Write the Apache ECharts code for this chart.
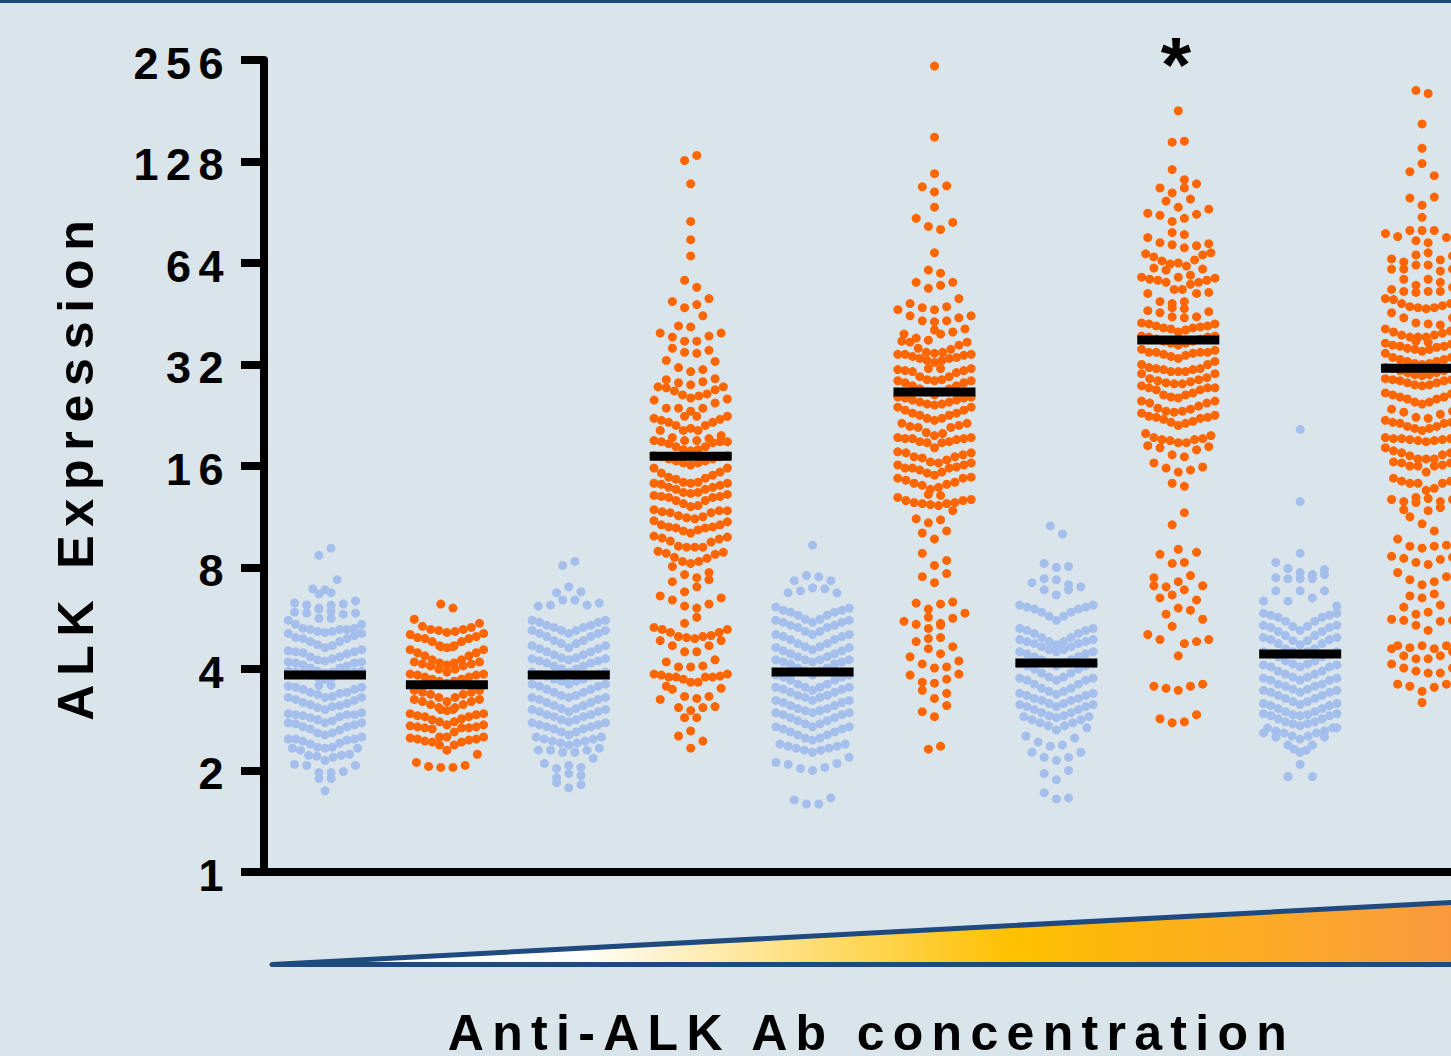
<!DOCTYPE html>
<html>
<head>
<meta charset="utf-8">
<style>html,body{margin:0;padding:0;background:#dae5eb;overflow:hidden}#main{width:1451px;height:1056px}</style>
<script src="https://cdn.jsdelivr.net/npm/echarts@6/dist/echarts.min.js"></script>
</head>
<body>
<div id="main"></div>
<script>
// Values, in log2(ALK Expression); each inner list is one swarm row, left to right.
const yTickLabels = [1, 2, 4, 8, 16, 32, 64, 128, 256];
const groupColors = ['blue','orange','blue','orange','blue','orange','blue','orange','blue','orange'];
const medians = [3.84, 3.59, 3.84, 17.1, 3.92, 26.5, 4.17, 37.8, 4.43, 31.2];

const group1Rows = [
[3.12,3.19],[2.79,2.78,2.88],[2.74,2.75],[2.65,2.63,2.60,2.63,2.64,2.67],[2.56,2.55,2.59,2.57,2.54,2.55],[2.50,2.50],
[2.48,2.44,2.40,2.39,2.37,2.36,2.37,2.39,2.39,2.40,2.44],[2.35,2.31,2.30,2.27,2.24,2.21,2.23,2.27,2.30,2.33,2.35],
[2.18,2.17,2.16,2.12,2.09,2.08,2.10,2.12,2.15,2.17,2.19],[2.07,2.06,2.04,2.01,1.98,1.96,1.97,2.01,2.03,2.06,2.07],
[1.98,1.97,1.96,1.94,1.92,1.90,1.92,1.94,1.96,1.97,1.98],[1.84,1.84],[1.83,1.82,1.80,1.77,1.75,1.72,1.73,1.76,1.77,1.80,1.82],
[1.72,1.70,1.67,1.65,1.62,1.60,1.63,1.64,1.66,1.69,1.72],[1.56,1.55,1.54,1.52,1.50,1.47,1.49,1.53,1.55,1.55,1.57],
[1.47,1.46,1.43,1.41,1.37,1.35,1.37,1.40,1.43,1.45,1.47],[1.31,1.31,1.29,1.26,1.23,1.22,1.23,1.27,1.30,1.31,1.33],
[1.22,1.20,1.15,1.14,1.10,1.13,1.15,1.16,1.22],[1.06,1.05,0.98,0.98,0.99,1.05],[0.92,0.92],[0.80]
];
const group2Rows = [
[2.64,2.60],[2.49,2.42,2.39,2.38,2.36,2.37,2.39,2.41,2.45],[2.34,2.31,2.30,2.27,2.23,2.21,2.23,2.27,2.30,2.32,2.35],[2.22,2.22],
[2.19,2.16,2.13,2.09,2.06,2.04,2.06,2.09,2.13,2.16,2.19],[2.07,2.05,2.03,2.00,1.97,2.00,2.03,2.05,2.07],
[1.95,1.94,1.92,1.90,1.88,1.86,1.88,1.90,1.92,1.94,1.95],[1.79,1.77,1.75,1.72,1.68,1.72,1.75,1.77,1.79],
[1.70,1.68,1.65,1.62,1.59,1.62,1.65,1.68,1.70],[1.60,1.60],[1.56,1.54,1.53,1.50,1.48,1.45,1.48,1.51,1.53,1.55,1.56],
[1.44,1.43,1.42,1.41,1.33,1.33,1.38,1.42,1.42,1.43,1.45],[1.32,1.31,1.29,1.28,1.25,1.20,1.25,1.28,1.30,1.31,1.33],
[1.08,1.04,1.03,1.03,1.05,1.16]
];
const group3Rows = [
[3.02,3.06],[2.75,2.81,2.76],[2.62,2.63,2.68,2.68,2.63,2.65],[2.48,2.46,2.43,2.41,2.38,2.35,2.38,2.41,2.43,2.46,2.48],
[2.38,2.35,2.32,2.28,2.25,2.21,2.25,2.28,2.32,2.35,2.38],[2.23,2.20,2.17,2.14,2.11,2.09,2.11,2.14,2.17,2.20,2.23],
[2.10,2.08,2.06,2.03,2.00,1.97,2.00,2.03,2.06,2.08,2.10],[1.97,1.95,1.93,1.90,1.88,1.85,1.88,1.90,1.93,1.95,1.97],
[1.85,1.83,1.80,1.77,1.74,1.72,1.74,1.77,1.80,1.83,1.85],[1.72,1.70,1.67,1.64,1.61,1.58,1.61,1.64,1.67,1.70,1.72],
[1.60,1.58,1.55,1.53,1.50,1.48,1.50,1.53,1.55,1.58,1.60],[1.47,1.45,1.43,1.41,1.38,1.35,1.38,1.41,1.43,1.45,1.47],
[1.33,1.31,1.29,1.27,1.25,1.27,1.29,1.31,1.33],[1.20,1.20,1.18,1.18,1.20,1.22],[1.07,1.02,1.05,1.03,1.12],[0.93,0.97,0.95],[0.88,0.83,0.86]
];
const group4Rows = [
[7.01,7.06],[6.78],[6.41],[6.23],[6.07],[5.83,5.76],[5.62,5.56,5.59,5.65],[5.38,5.37,5.48],[5.31,5.27,5.23,5.23,5.28,5.31],
[5.16,5.12,5.11,5.14],[5.04,4.97,4.93,4.95,5.03],[4.85,4.82,4.80,4.83,4.86],[4.78,4.77,4.74,4.70,4.67,4.69,4.71,4.75,4.78],
[4.65,4.57,4.57,4.54,4.57,4.62,4.66],[4.49,4.49],[4.47,4.45,4.43,4.40,4.35,4.37,4.35,4.40,4.43,4.46,4.49],[4.35,4.28,4.25,4.25,4.27,4.30],
[4.25,4.24,4.22,4.19,4.16,4.15,4.16,4.19,4.23,4.24,4.24],[4.10,4.09,4.07,4.05,4.03,4.01,4.03,4.05,4.07,4.09,4.10],
[3.98,3.93,3.89,3.87,3.84,3.83,3.84,3.88,3.91,3.94,3.98],[3.83,3.82,3.79,3.77,3.74,3.73,3.74,3.77,3.79,3.81,3.83],
[3.71,3.70,3.69,3.66,3.63,3.60,3.61,3.66,3.69,3.70,3.72],[3.57,3.55,3.54,3.51,3.49,3.48,3.50,3.54,3.56,3.56],
[3.46,3.42,3.40,3.39,3.36,3.34,3.37,3.39,3.40,3.42,3.45],[3.31,3.29,3.26,3.21,3.20,3.20,3.20,3.25,3.28,3.30],
[3.16,3.14,3.10,3.06,3.04,3.06,3.09,3.13,3.15],[2.86,2.93,2.90,2.95],[3.01,2.76,2.81,2.88],[2.72,2.68,2.62,2.60,2.64,2.70],[2.45,2.51],
[2.41,2.39,2.36,2.32,2.31,2.30,2.32,2.33,2.36,2.39],[2.28,2.23,2.17,2.17,2.23,2.28],[2.07,2.02,2.02,2.03,2.09],
[1.95,1.94,1.92,1.92,1.90,1.87,1.87,1.92,1.92,1.93,1.95],[1.70,1.80,1.73,1.71,1.73,1.81],[1.83,1.62,1.59,1.62,1.63],[1.52,1.52],[1.34,1.39,1.29],[1.22]
];
const group5Rows = [
[3.22],[2.87,2.92,2.91,2.87],[2.75,2.77,2.80,2.79,2.75],[2.61,2.58,2.56,2.53,2.49,2.46,2.49,2.53,2.56,2.58,2.60],
[2.48,2.46,2.43,2.41,2.37,2.34,2.37,2.41,2.43,2.46,2.48],[2.34,2.32,2.29,2.25,2.22,2.19,2.22,2.25,2.29,2.32,2.34],
[2.21,2.18,2.15,2.12,2.09,2.07,2.09,2.12,2.15,2.18,2.21],[2.09,2.07,2.05,2.01,1.98,1.94,1.98,2.01,2.05,2.07,2.09],
[1.94,1.92,1.89,1.85,1.82,1.79,1.82,1.85,1.89,1.92,1.94],[1.82,1.80,1.77,1.74,1.72,1.69,1.72,1.74,1.77,1.80,1.82],
[1.69,1.67,1.64,1.61,1.59,1.57,1.59,1.61,1.64,1.67,1.69],[1.57,1.55,1.52,1.49,1.46,1.43,1.46,1.49,1.52,1.55,1.57],
[1.43,1.41,1.38,1.35,1.32,1.30,1.32,1.35,1.38,1.41,1.43],[1.26,1.24,1.22,1.20,1.18,1.20,1.22,1.24,1.26],
[1.08,1.06,1.02,1.00,1.03,1.07,1.13],[0.71,0.67,0.67,0.73]
];
const group6Rows = [
[7.94],[7.24],[6.88],[6.75,6.70,6.76],[6.55],[6.44,6.36,6.33,6.40],[6.10],[5.93,5.90],[5.81,5.75,5.78,5.81],
[5.54,5.48,5.56,5.54,5.57,5.65,5.48],[5.60,5.43,5.42,5.43,5.46],[5.34],[5.30,5.26,5.24,5.30,5.32,5.35],
[5.23,5.22,5.16,5.12,5.11,5.12,5.15,5.19,5.22],[5.10,5.10,5.08,5.06,5.04,5.02,5.04,5.06,5.07,5.09,5.10],[4.96,4.96],
[4.95,4.94,4.93,4.88,4.85,4.84,4.85,4.88,4.92,4.94,4.96],[4.84,4.82,4.79,4.76,4.73,4.70,4.73,4.76,4.79,4.82,4.84],
[4.68,4.67,4.65,4.63,4.61,4.60,4.61,4.63,4.65,4.67,4.68],[4.58,4.55,4.52,4.50,4.47,4.45,4.47,4.50,4.52,4.55,4.58],
[4.42,4.39,4.38,4.33,4.30,4.32,4.38,4.40,4.42],[4.28,4.27,4.27,4.24,4.23,4.18,4.23,4.24,4.26,4.27,4.28],
[4.14,4.13,4.09,4.08,4.04,4.03,4.06,4.09,4.11,4.13],[4.01,3.98,3.98,3.96,3.93,3.91,3.94,3.98,3.99,4.01,4.03],
[3.88,3.86,3.83,3.81,3.77,3.79,3.82,3.84,3.88,3.89],[3.72,3.71],[3.69,3.66,3.64,3.63,3.62,3.61,3.63,3.64,3.66,3.67],
[3.48,3.44,3.47,3.56],[3.34,3.28,3.36],[3.14,3.02,3.07],[2.91,2.85,2.94],[2.65,2.59,2.64,2.66],[2.47,2.44,2.51,2.45,2.50,2.55],[2.40,2.43],
[2.27,2.20,2.15,2.22],[2.30,2.31],[2.12,2.05,2.01,2.02,2.08],[1.94,1.87,1.86,1.90,1.95],[1.79,1.71,1.76],[1.58,1.53,1.64],[1.21,1.24]
];
const group7Rows = [
[3.41,3.33],[3.04,3.00,3.01],[2.85,2.89,2.88,2.83,2.81],[2.78,2.73,2.78],[2.63,2.61,2.59,2.56,2.52,2.48,2.52,2.56,2.59,2.61,2.63],
[2.40,2.38,2.35,2.31,2.27,2.24,2.27,2.31,2.35,2.38,2.40],[2.29,2.27,2.25,2.22,2.19,2.17,2.19,2.22,2.25,2.27,2.29],
[2.17,2.15,2.12,2.09,2.06,2.03,2.06,2.09,2.12,2.15,2.17],[2.05,2.03,2.00,1.96,1.92,1.89,1.92,1.96,2.00,2.03,2.05],
[1.91,1.89,1.85,1.81,1.78,1.75,1.78,1.81,1.85,1.89,1.91],[1.76,1.74,1.71,1.69,1.66,1.63,1.66,1.69,1.71,1.74,1.76],
[1.65,1.63,1.60,1.57,1.54,1.52,1.54,1.57,1.60,1.63,1.65],[1.53,1.50,1.47,1.44,1.40,1.44,1.47,1.50,1.53],
[1.34,1.28,1.24,1.25,1.32,1.42],[1.18,1.13,1.10,1.13,1.18],[0.97,0.91,1.00],[0.78,0.72,0.73]
];
const group8Rows = [
[7.50],[7.19,7.20],[6.92,6.82],[6.74,6.69,6.74,6.78],[6.61,6.55,6.63],[6.49,6.47,6.41,6.44,6.48,6.53],[6.30,6.28],
[6.25,6.20,6.18,6.15,6.17,6.19],[6.09,6.06,6.02,5.99,6.00,5.97,6.03,6.08,6.10],[5.95,5.93,5.86,5.88,5.94],
[5.86,5.84,5.83,5.81,5.74,5.74,5.79,5.81,5.83,5.85],[5.70,5.62,5.60,5.62,5.70,5.71],[5.53,5.51,5.56,5.55,5.47,5.52],[5.47,5.46],
[5.41,5.40,5.38,5.36,5.35,5.32,5.34,5.36,5.37,5.38,5.40],[5.28,5.27,5.25,5.23,5.21,5.19,5.21,5.23,5.25,5.27,5.28],
[5.15,5.12,5.12,5.10,5.08,5.06,5.09,5.11,5.12,5.12,5.14],[5.00,4.97,4.96,4.95,4.93,4.93,4.93,4.95,4.96,5.00,5.03],
[4.91,4.86,4.84,4.82,4.81,4.81,4.83,4.85,4.87,4.91],[4.79,4.77,4.75,4.70,4.68,4.67,4.70,4.72,4.75,4.77,4.77],
[4.64,4.62,4.57,4.54,4.53,4.54,4.56,4.59,4.62,4.64],[4.52,4.49,4.48,4.46,4.43,4.40,4.42,4.44,4.47,4.48,4.50],
[4.32,4.28,4.26,4.25,4.23,4.23,4.26,4.27,4.30],[4.20,4.18,4.11,4.09,4.16,4.19],[4.03,3.98,3.94,3.96,3.99],[3.83,3.80],[3.42,3.54],
[3.13,3.04,3.05,3.15],[3.18],[2.82,2.81,2.86,2.92,2.82],[2.70,2.73,2.78,2.68],[2.90,2.54,2.60,2.58,2.49],[2.34,2.29,2.42,2.25,2.27,2.29],[2.13],
[1.83,1.81,1.79,1.83,1.85],[1.51,1.47,1.48,1.55]
];
const group9Rows = [
[4.36],[3.65],[3.14],[3.05,2.99,2.95,2.93,2.98],[2.90,2.89,2.89,2.89,2.93],[2.67,2.77,2.67,2.77,2.70,2.77,2.62],
[2.55,2.53,2.51,2.47,2.42,2.38,2.42,2.47,2.51,2.53,2.55],[2.43,2.41,2.37,2.33,2.28,2.24,2.28,2.33,2.37,2.41,2.43],
[2.31,2.29,2.25,2.20,2.17,2.14,2.17,2.20,2.25,2.29,2.31],[2.17,2.15,2.12,2.08,2.05,2.02,2.05,2.08,2.12,2.15,2.17],
[2.04,2.02,1.98,1.95,1.92,1.89,1.92,1.95,1.98,2.02,2.04],[1.91,1.89,1.85,1.83,1.80,1.77,1.80,1.83,1.85,1.89,1.91],
[1.79,1.77,1.74,1.71,1.68,1.65,1.68,1.71,1.74,1.77,1.79],[1.66,1.64,1.61,1.58,1.55,1.54,1.55,1.58,1.61,1.64,1.66],
[1.56,1.54,1.51,1.48,1.46,1.44,1.46,1.48,1.51,1.54,1.56],[1.42,1.39,1.37,1.34,1.31,1.34,1.37,1.39,1.42],
[1.37,1.33,1.25,1.18,1.25,1.33,1.42],[1.21,1.20],[0.94,1.06,0.94]
];
const group10Rows = [
[7.70,7.67],[7.37],[7.13],[6.90,6.98,6.86],[6.64,6.57,6.65],[6.45],[6.29,6.26,6.32,6.32,6.32,6.25,6.28],[6.22,6.20],
[6.04,6.01,6.08,6.10,6.03,6.07],[5.94,5.94,5.98,5.98,5.92,5.94],[5.84,5.78,5.84,5.81],[5.74,5.72,5.71,5.72,5.72,5.76],
[5.65,5.64,5.60,5.57,5.56,5.55,5.56,5.58,5.60,5.65],[5.51,5.46,5.41,5.40,5.39,5.46],[5.35,5.32,5.29,5.27,5.27,5.27,5.29,5.31,5.33,5.35],[5.23,5.22],
[5.21,5.19,5.18,5.16,5.15,5.13,5.15,5.17,5.18,5.20,5.21],[5.11,5.07,5.05,5.03,5.01,5.00,5.01,5.03,5.05,5.07,5.11],
[4.97,4.96,4.94,4.92,4.90,4.89,4.90,4.92,4.94,4.96,4.97],[4.86,4.85,4.84,4.82,4.80,4.79,4.80,4.82,4.84,4.85,4.86],
[4.72,4.70,4.68,4.66,4.63,4.61,4.63,4.66,4.68,4.71,4.72],[4.56,4.53,4.48,4.47,4.51,4.54],[4.45,4.43,4.42,4.39,4.37,4.35,4.37,4.39,4.42,4.43,4.45],
[4.28,4.27,4.27,4.26,4.25,4.24,4.25,4.26,4.27,4.28],[4.18,4.15,4.13,4.10,4.07,4.07,4.07,4.11,4.13,4.15],[4.04,4.03,4.00,4.00,3.94,4.00,4.01,4.03],
[3.88,3.85,3.83,3.83,3.76,3.78,3.83,3.85],[3.67,3.65,3.69,3.68,3.65,3.67],[3.57,3.64,3.56,3.59],[3.50,3.43,3.36],[3.28,3.21,3.19,3.21,3.22],
[3.11,3.09,3.05,3.03,3.08,3.10],[2.95,2.88,2.83,2.86,2.91],[2.72,2.70,2.74],[2.61,2.54,2.56,2.63],[2.49,2.48,2.43,2.38,2.47,2.48],
[2.23,2.21,2.23,2.20,2.23],[2.20,2.13,2.10,2.10,2.13,2.17],[2.05,2.01,1.98,1.96,1.96,2.01],[1.85,1.83,1.78,1.82,1.85],[1.67]
];

const allGroups = [group1Rows,group2Rows,group3Rows,group4Rows,group5Rows,group6Rows,group7Rows,group8Rows,group9Rows,group10Rows];
const palette = { blue: '#a4bfec', orange: '#ff6600' };

// Swarm layout: offsets along x in units of one group's spacing.
function slotWidth(n) { return n <= 7 ? 0.1 : Math.min(0.0669, 0.602 / (n - 1)); }
function swarm(rows, groupIndex) {
  const pts = [];
  rows.forEach(function (row) {
    const w = slotWidth(row.length);
    row.forEach(function (lv, i) {
      pts.push([groupIndex + (i - (row.length - 1) / 2) * w, Math.pow(2, lv)]);
    });
  });
  return pts;
}

const series = allGroups.map(function (rows, g) {
  return {
    type: 'scatter', name: 'Group ' + (g + 1), data: swarm(rows, g),
    symbol: 'circle', symbolSize: 9, clip: false, silent: true,
    itemStyle: { color: palette[groupColors[g]], opacity: 1 }, z: 2
  };
});
series.push({
  type: 'scatter', name: 'Median', data: medians.map(function (m, g) { return [g, m]; }),
  symbol: 'rect', symbolSize: [82, 9], clip: false, silent: true,
  itemStyle: { color: '#000', opacity: 1 }, z: 5
});

const fontFamily = '"Liberation Sans", Arial, sans-serif';
const chart = echarts.init(document.getElementById('main'), null, { renderer: 'svg', width: 1451, height: 1056 });
chart.setOption({
  animation: false,
  backgroundColor: '#dae5eb',
  grid: { left: 264, right: -28, top: 60, bottom: 184, containLabel: false, outerBoundsMode: 'none' },
  xAxis: {
    type: 'value', min: -0.5004, max: 9.467,
    axisLine: { show: true, onZero: false, lineStyle: { color: '#000', width: 8, cap: 'square' } },
    axisTick: { show: false }, axisLabel: { show: false }, splitLine: { show: false },
    name: 'Anti-ALK Ab concentration', nameLocation: 'middle', nameGap: 136,
    nameTextStyle: { color: '#000', fontFamily: fontFamily, fontWeight: 'bold', fontSize: 50 }
  },
  yAxis: {
    type: 'log', logBase: 2, min: yTickLabels[0], max: yTickLabels[yTickLabels.length - 1], interval: 1,
    axisLine: { show: true, onZero: false, lineStyle: { color: '#000', width: 8 } },
    axisTick: { show: true, length: 23, lineStyle: { color: '#000', width: 8 } },
    axisLabel: { color: '#000', fontFamily: fontFamily, fontWeight: 'bold', fontSize: 45, margin: 33 },
    splitLine: { show: false }, minorTick: { show: false },
    name: 'ALK Expression', nameLocation: 'middle', nameRotate: 90, nameGap: 163,
    nameTextStyle: { color: '#000', fontFamily: fontFamily, fontWeight: 'bold', fontSize: 50 }
  },
  graphic: [
    { type: 'rect', shape: { x: 0, y: 0, width: 1451, height: 3 }, style: { fill: '#1f4a80' }, silent: true },
    { type: 'polygon', silent: true,
      shape: { points: [[272, 964.5], [1470, 901.5], [1470, 964.5]] },
      style: {
        stroke: '#1f4a80', lineWidth: 5, lineJoin: 'round',
        fill: new echarts.graphic.LinearGradient(270, 0, 1451, 0, [
          { offset: 0, color: '#ffffff' }, { offset: 0.257, color: '#ffffff' },
          { offset: 0.63, color: '#ffc000' }, { offset: 1, color: '#f99a40' }
        ], true)
      } },
    { type: 'text', silent: true, style: { text: '*', x: 1176, y: 65, fill: '#000', align: 'center', verticalAlign: 'middle',
      font: 'bold 78px "Liberation Sans", Arial, sans-serif' } }
  ],
  series: series
});

// Wide tracking of the axis text, and a small baseline nudge for the tick labels.
function track() {
  document.querySelectorAll('#main text').forEach(function (t) {
    const s = t.textContent;
    if (s === 'ALK Expression') t.style.letterSpacing = '8.8px';
    else if (s === 'Anti-ALK Ab concentration') t.style.letterSpacing = '8.3px';
    else if (/^\d+$/.test(s)) { t.style.letterSpacing = '7.5px'; t.setAttribute('dy', '3'); }
  });
}
track();
chart.on('finished', track);
</script>
</body>
</html>
